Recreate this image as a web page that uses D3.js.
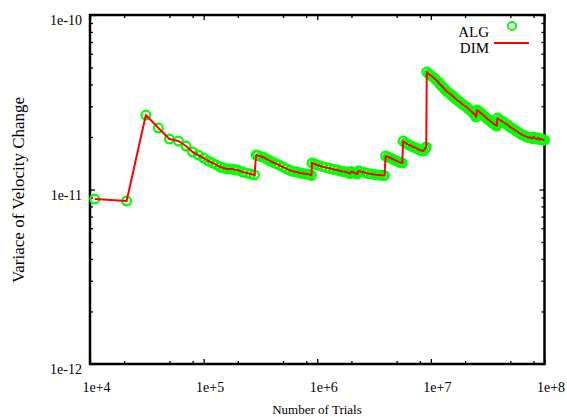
<!DOCTYPE html>
<html>
<head>
<meta charset="utf-8">
<script src="https://cdn.jsdelivr.net/npm/d3@7"></script>
<style>
  body { margin: 0; background: #fff; }
  text { font-family: "Liberation Serif", "Times New Roman", serif; fill: #000; }
</style>
</head>
<body>
<script>
// number of trials (x) and variance of velocity change (y)
const trials = [
  1.1e4, 2.1e4, 3.1e4, 4e4, 5e4, 6e4, 7e4, 8e4, 9e4,
  1e5, 1.1e5, 1.2e5, 1.3e5, 1.4e5, 1.5e5, 1.6e5, 1.7e5, 1.8e5, 1.9e5, 2e5,
  2.2e5, 2.4e5, 2.6e5, 2.8e5,
  2.9e5, 3e5, 3.2e5, 3.4e5, 3.6e5, 3.8e5, 4e5, 4.3e5, 4.6e5, 5e5, 5.4e5, 5.8e5,
  6.2e5, 6.6e5, 7e5, 7.5e5, 8e5, 8.5e5, 8.9e5,
  9e5, 9.5e5, 1e6, 1.1e6, 1.2e6, 1.3e6, 1.4e6, 1.5e6, 1.6e6, 1.7e6, 1.8e6, 1.9e6,
  1.95e6, 2e6, 2.1e6, 2.2e6, 2.25e6, 2.3e6, 2.4e6, 2.6e6, 2.8e6, 3e6, 3.2e6,
  3.4e6, 3.6e6, 3.8e6, 3.9e6,
  4e6, 4.2e6, 4.4e6, 4.6e6, 4.8e6, 5e6, 5.2e6, 5.4e6, 5.6e6,
  5.7e6, 6e6, 6.3e6, 6.6e6, 7e6, 7.4e6, 7.8e6, 8.2e6, 8.6e6, 8.9e6, 9.1e6,
  9.2e6, 9.6e6, 1e7, 1.05e7, 1.1e7, 1.15e7, 1.2e7, 1.26e7, 1.32e7, 1.38e7, 1.44e7,
  1.5e7, 1.57e7, 1.64e7, 1.72e7, 1.8e7, 1.88e7, 1.97e7, 2.06e7, 2.15e7, 2.25e7,
  2.35e7, 2.45e7, 2.5e7,
  2.55e7, 2.65e7, 2.75e7, 2.85e7, 2.95e7, 3.05e7, 3.15e7, 3.25e7, 3.35e7, 3.45e7,
  3.55e7, 3.65e7, 3.75e7, 3.8e7,
  3.85e7, 4e7, 4.2e7, 4.4e7, 4.6e7, 4.8e7, 5e7, 5.25e7, 5.5e7, 5.75e7, 6e7,
  6.3e7, 6.6e7, 6.9e7, 7.2e7, 7.5e7, 7.8e7, 8e7, 8.3e7, 8.6e7, 8.8e7, 9.1e7,
  9.4e7, 9.7e7, 1e8
];

const variance = [
  8.82e-12, 8.59e-12, 26.72e-12, 22.50e-12, 19.47e-12, 18.96e-12, 17.75e-12, 16.40e-12, 15.76e-12,
  15.15e-12, 14.57e-12, 14.19e-12, 13.82e-12, 13.45e-12, 13.28e-12, 13.11e-12, 13.11e-12, 13.11e-12, 12.93e-12, 12.93e-12,
  12.59e-12, 12.43e-12, 12.27e-12, 12.11e-12,
  15.76e-12, 15.66e-12, 15.45e-12, 15.25e-12, 14.95e-12, 14.66e-12, 14.38e-12, 14.10e-12, 13.82e-12, 13.45e-12, 13.11e-12, 12.85e-12,
  12.68e-12, 12.59e-12, 12.43e-12, 12.35e-12, 12.27e-12, 12.19e-12, 12.03e-12,
  14.19e-12, 14.00e-12, 13.82e-12, 13.55e-12, 13.36e-12, 13.19e-12, 13.02e-12, 12.93e-12, 12.76e-12, 12.68e-12, 12.59e-12, 12.43e-12,
  12.35e-12, 12.68e-12, 12.51e-12, 12.35e-12, 12.27e-12, 12.76e-12, 12.68e-12, 12.51e-12, 12.35e-12, 12.27e-12, 12.19e-12,
  12.11e-12, 12.11e-12, 12.03e-12, 12.03e-12,
  15.56e-12, 15.35e-12, 15.15e-12, 14.95e-12, 14.76e-12, 14.57e-12, 14.38e-12, 14.28e-12, 14.19e-12,
  18.96e-12, 18.47e-12, 18.11e-12, 17.87e-12, 17.52e-12, 17.29e-12, 16.95e-12, 16.73e-12, 16.62e-12, 17.18e-12, 17.52e-12,
  47.15e-12, 45.92e-12, 45.02e-12, 43.85e-12, 42.71e-12, 41.59e-12, 40.24e-12, 38.93e-12, 37.67e-12, 36.45e-12, 35.73e-12,
  35.03e-12, 34.12e-12, 33.23e-12, 32.36e-12, 31.73e-12, 30.90e-12, 30.29e-12, 29.70e-12, 28.93e-12, 28.17e-12,
  27.44e-12, 26.72e-12, 26.02e-12,
  28.55e-12, 27.99e-12, 27.44e-12, 26.90e-12, 26.37e-12, 25.85e-12, 25.35e-12, 25.01e-12, 24.52e-12, 24.20e-12,
  23.88e-12, 23.57e-12, 23.26e-12, 23.11e-12,
  25.68e-12, 25.18e-12, 24.69e-12, 24.20e-12, 23.73e-12, 23.26e-12, 22.80e-12, 22.36e-12, 21.92e-12, 21.49e-12, 21.07e-12,
  20.65e-12, 20.38e-12, 20.11e-12, 19.86e-12, 19.86e-12, 19.60e-12, 19.99e-12, 19.60e-12, 19.47e-12, 19.73e-12, 19.35e-12,
  19.47e-12, 19.21e-12, 19.21e-12
];

// both series lie on top of each other
const algVariance = variance;
const dimVariance = variance;

const xMajor = [1e4, 1e5, 1e6, 1e7, 1e8];
const xMajorLabels = ["1e+4", "1e+5", "1e+6", "1e+7", "1e+8"];
const xMinorSteps = [2, 5, 8];
const yMajor = [1e-12, 1e-11, 1e-10];
const yMajorLabels = ["1e-12", "1e-11", "1e-10"];
const yMinorSteps = [2, 3, 4, 5, 6, 7, 8, 9];

const W = 567, H = 417;
const L = 90, R = 544.5, T = 15, B = 364;

const svg = d3.select("body").append("svg")
    .attr("width", W)
    .attr("height", H);

const x = d3.scaleLog().domain([1e4, 1e8]).range([L, R]);
const y = d3.scaleLog().domain([1e-12, 1e-10]).range([B, T]);

const xMinor = [];
xMajor.slice(0, -1).forEach(d => xMinorSteps.forEach(k => xMinor.push(d * k)));
const yMinor = [];
yMajor.slice(0, -1).forEach(d => yMinorSteps.forEach(k => yMinor.push(d * k)));

function tickAxis(axis, values, size) {
  return axis.tickValues(values).tickSize(-size).tickSizeOuter(0).tickFormat("");
}

// ticks, all pointing inwards
const gAxes = svg.append("g");
[[d3.axisBottom, `translate(0,${B})`, x], [d3.axisTop, `translate(0,${T})`, x],
 [d3.axisLeft, `translate(${L},0)`, y], [d3.axisRight, `translate(${R},0)`, y]]
  .forEach(([fn, tr, sc]) => {
    const majors = sc === x ? xMajor : yMajor;
    const minors = sc === x ? xMinor : yMinor;
    gAxes.append("g").attr("transform", tr).call(tickAxis(fn(sc), majors, 5));
    gAxes.append("g").attr("transform", tr).call(tickAxis(fn(sc), minors, 3));
  });
gAxes.selectAll(".domain").remove();
gAxes.selectAll(".tick line").attr("stroke", "#000").attr("stroke-width", 1.3);

// tick labels
svg.append("g").selectAll("text")
  .data(xMajor)
  .join("text")
    .attr("x", d => x(d) + 6.5)
    .attr("y", 392)
    .attr("text-anchor", "middle")
    .style("font-size", "14px")
    .text((d, i) => xMajorLabels[i]);

svg.append("g").selectAll("text")
  .data(yMajor)
  .join("text")
    .attr("x", L - 8)
    .attr("y", d => y(d) + 10)
    .attr("text-anchor", "end")
    .style("font-size", "14px")
    .text((d, i) => yMajorLabels[i]);

// frame
svg.append("rect")
    .attr("x", L)
    .attr("y", T)
    .attr("width", R - L)
    .attr("height", B - T)
    .attr("fill", "none")
    .attr("stroke", "#000")
    .attr("stroke-width", 2.5);

// ALG: open green circles
svg.append("g").selectAll("circle")
  .data(trials)
  .join("circle")
    .attr("cx", d => x(d))
    .attr("cy", (d, i) => y(algVariance[i]))
    .attr("r", 4.4)
    .attr("fill", "none")
    .attr("stroke", "#00ff00")
    .attr("stroke-width", 2.2);

// DIM: red line
const line = d3.line()
    .x(d => x(d))
    .y((d, i) => y(dimVariance[i]));

svg.append("path")
    .datum(trials)
    .attr("d", line)
    .attr("fill", "none")
    .attr("stroke", "#ff0000")
    .attr("stroke-width", 2)
    .attr("stroke-linejoin", "round");

// legend
svg.append("text").attr("x", 489).attr("y", 37).attr("text-anchor", "end")
    .style("font-size", "15px").text("ALG");
svg.append("circle").attr("cx", 512).attr("cy", 26).attr("r", 4)
    .attr("fill", "none").attr("stroke", "#00ff00").attr("stroke-width", 2);
svg.append("text").attr("x", 489).attr("y", 52.5).attr("text-anchor", "end")
    .style("font-size", "15px").text("DIM");
svg.append("line").attr("x1", 494).attr("x2", 529).attr("y1", 43).attr("y2", 43)
    .attr("stroke", "#ff0000").attr("stroke-width", 2);

// axis titles
svg.append("text")
    .attr("x", 317)
    .attr("y", 414)
    .attr("text-anchor", "middle")
    .style("font-size", "13px")
    .text("Number of Trials");

svg.append("text")
    .attr("transform", "translate(24,190) rotate(-90)")
    .attr("text-anchor", "middle")
    .style("font-size", "17px")
    .text("Variace of Velocity Change");
</script>
</body>
</html>
